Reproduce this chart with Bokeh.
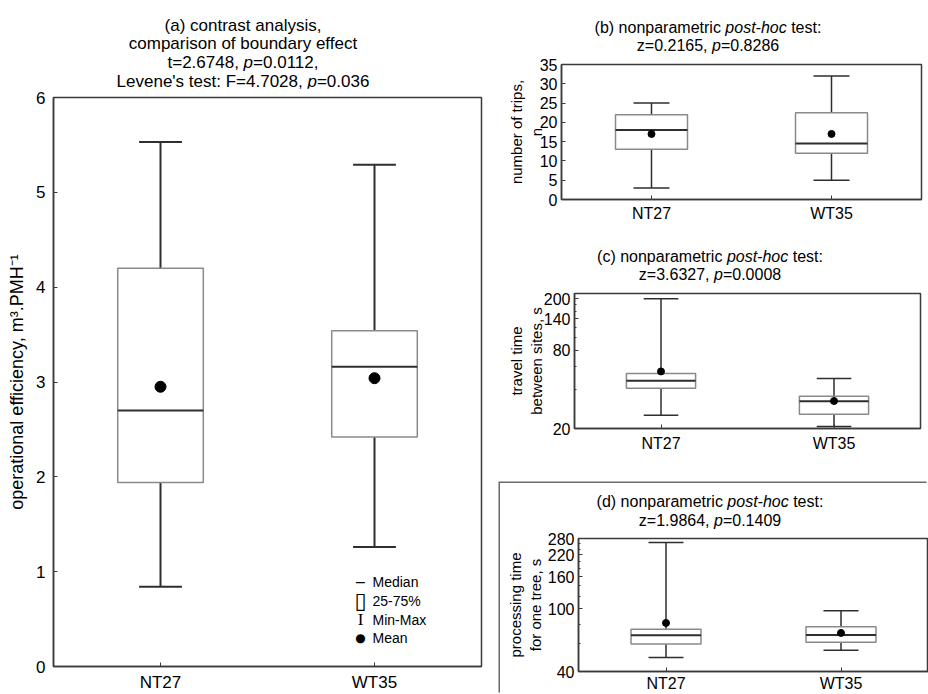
from bokeh.plotting import figure
from bokeh.models import (ColumnDataSource, Range1d, FixedTicker, Label, Div,
                          PrintfTickFormatter)
from bokeh.layouts import row, column
from bokeh.transform import dodge
from bokeh.embed import file_html
from bokeh.resources import INLINE

# ---------------- data ----------------
groups = ["NT27", "WT35"]

# (a) operational efficiency, m3.PMH-1
a_min = [0.84, 1.26]
a_q1 = [1.94, 2.42]
a_med = [2.70, 3.16]
a_q3 = [4.20, 3.54]
a_max = [5.53, 5.29]
a_mean = [2.95, 3.04]

# (b) number of trips
b_min = [3, 5]
b_q1 = [13, 12]
b_med = [18, 14.5]
b_q3 = [22, 22.5]
b_max = [25, 32]
b_mean = [17, 17]

# (c) travel time between sites, s
c_min = [25.3, 20.7]
c_q1 = [40.8, 25.8]
c_med = [46.7, 32.4]
c_q3 = [53.2, 35.4]
c_max = [200, 48.7]
c_mean = [55.1, 32.6]

# (d) processing time for one tree, s
d_min = [49.1, 54.6]
d_q1 = [59.9, 61.4]
d_med = [68.0, 68.3]
d_q3 = [74.2, 77.1]
d_max = [264, 97.4]
d_mean = [81.4, 70.3]

a_ticks = [0, 1, 2, 3, 4, 5, 6]
b_ticks = [0, 5, 10, 15, 20, 25, 30, 35]
c_ticks = [20, 80, 140, 200]
c_minor = [40, 60, 100, 120, 160, 180, 220]
d_ticks = [40, 100, 160, 220, 280]
d_minor = [60, 80, 120, 140, 180, 200, 240, 260]

title_a = ["(a) contrast analysis,",
           "comparison of boundary effect",
           "t=2.6748, <i>p</i>=0.0112,",
           "Levene's test: F=4.7028, <i>p</i>=0.036"]
title_b = ["(b) nonparametric <i>post-hoc</i> test:", "z=0.2165, <i>p</i>=0.8286"]
title_c = ["(c) nonparametric <i>post-hoc</i> test:", "z=3.6327, <i>p</i>=0.0008"]
title_d = ["(d) nonparametric <i>post-hoc</i> test:", "z=1.9864, <i>p</i>=0.1409"]
legend_items = [("\u2013", "Median"), ("\u25af", "25-75%"), ("I", "Min-Max"), ("\u25cf", "Mean")]

FONT = "Liberation Sans"
FRAME = "#3a3a3a"
BOXC = "#8a8a8a"
WHC = "#2e2e2e"


def title_div(lines, width, height, size, lh, pad):
    html = ("<div style=\"margin:0;padding:%spx 0 0 0;width:%dpx;display:block;"
            "font-family:'Liberation Sans',Arial,sans-serif;"
            "font-size:%dpx;line-height:%spx;text-align:center;color:#000;white-space:nowrap;\">%s</div>"
            % (pad, width, size, lh, "<br>".join(lines)))
    return Div(text=html, width=width, height=height, margin=0)


def make_fig(w, h, yr, ylog, mbl, mbr, mbt, mbb):
    p = figure(width=w, height=h, x_range=groups, y_range=yr,
               y_axis_type="log" if ylog else "linear",
               output_backend="svg", toolbar_location=None,
               min_border_left=mbl, min_border_right=mbr,
               min_border_top=mbt, min_border_bottom=mbb,
               frame_align=False,
               background_fill_color="white", border_fill_color="white",
               outline_line_color=FRAME, outline_line_width=1.5)
    p.xgrid.visible = False
    p.ygrid.visible = False
    for ax in p.axis:
        ax.axis_line_color = FRAME
        ax.axis_line_width = 1.5
        ax.major_tick_in = 4
        ax.major_tick_out = 0
        ax.minor_tick_in = 2
        ax.minor_tick_out = 0
        ax.major_tick_line_color = FRAME
        ax.minor_tick_line_color = FRAME
        ax.major_label_text_font = FONT
        ax.major_label_text_color = "black"
        ax.axis_label_text_font = FONT
        ax.axis_label_text_font_style = "normal"
        ax.axis_label_text_color = "black"
    return p


def add_boxes(p, mins, q1, med, q3, maxs, means, wh_lw, dot):
    src = ColumnDataSource(dict(g=groups, lo=mins, q1=q1, med=med, q3=q3, hi=maxs, mean=means))
    left_c = dodge("g", -0.1, range=p.x_range)
    right_c = dodge("g", 0.1, range=p.x_range)
    p.segment(x0="g", y0="q3", x1="g", y1="hi", source=src, line_color=WHC, line_width=wh_lw)
    p.segment(x0="g", y0="lo", x1="g", y1="q1", source=src, line_color=WHC, line_width=wh_lw)
    p.segment(x0=left_c, y0="hi", x1=right_c, y1="hi", source=src, line_color=WHC, line_width=wh_lw)
    p.segment(x0=left_c, y0="lo", x1=right_c, y1="lo", source=src, line_color=WHC, line_width=wh_lw)
    p.vbar(x="g", width=0.4, bottom="q1", top="q3", source=src,
           fill_color="white", line_color=BOXC, line_width=1.5)
    p.segment(x0=dodge("g", -0.2, range=p.x_range), y0="med",
              x1=dodge("g", 0.2, range=p.x_range), y1="med",
              source=src, line_color=WHC, line_width=2)
    p.scatter(x="g", y="mean", size=dot, source=src, fill_color="black", line_color="black")


# ---------------- (a) ----------------
div_a = title_div(title_a, 486, 88, 17, 18.8, 16.5)
pa = make_fig(500, 606, Range1d(0, 6), False, 53, 19, 9, 26)
pa.yaxis.ticker = FixedTicker(ticks=a_ticks, minor_ticks=[])
pa.yaxis.axis_label = "operational efficiency, m\u00b3.PMH\u207b\u00b9"
pa.yaxis.axis_label_text_font_size = "18px"
pa.yaxis.major_label_text_font_size = "17px"
pa.yaxis.major_label_standoff = 8
pa.yaxis.axis_label_standoff = 6
pa.xaxis.major_label_text_font_size = "17px"
pa.xaxis.major_label_standoff = 6
add_boxes(pa, a_min, a_q1, a_med, a_q3, a_max, a_mean, 2, 11)
sym_fonts = [FONT, "DejaVu Sans", "Liberation Serif", "DejaVu Sans"]
sym_sizes = ["16px", "22px", "17px", "12px"]
for (sym, txt), yy, sf, ss in zip(legend_items, [493, 512, 531, 549], sym_fonts, sym_sizes):
    pa.add_layout(Label(x=360, y=yy, x_units="canvas", y_units="canvas", text=sym,
                        text_font=sf, text_font_size=ss, text_color="black",
                        text_align="center", text_baseline="middle"))
    pa.add_layout(Label(x=372, y=yy, x_units="canvas", y_units="canvas", text=txt,
                        text_font=FONT, text_font_size="14px", text_color="black",
                        text_align="left", text_baseline="middle"))


def style_right(p, label, std):
    p.yaxis.axis_label = label
    p.yaxis.axis_label_text_font_size = "15px"
    p.yaxis.axis_label_text_line_height = 1.15
    p.yaxis.major_label_text_font_size = "16px"
    p.yaxis.major_label_standoff = 4
    p.yaxis.axis_label_standoff = std
    p.xaxis.major_label_text_font_size = "16px"


# ---------------- (b) ----------------
div_b = title_div(title_b, 416, 54, 16, 18, 19)
pb = make_fig(428, 178, Range1d(0, 35), False, 61, 7, 10, 33)
pb.yaxis.ticker = FixedTicker(ticks=b_ticks, minor_ticks=[])
style_right(pb, "number of trips,\nn", -8)
pb.xaxis.major_label_standoff = 5
add_boxes(pb, b_min, b_q1, b_med, b_q3, b_max, b_mean, 1.5, 7)

# ---------------- (c) ----------------
div_c = title_div(title_c, 420, 52, 16, 18, 16)
pc = make_fig(428, 199, Range1d(20, 220), True, 74, 8, 9, 55)
pc.yaxis.ticker = FixedTicker(ticks=c_ticks, minor_ticks=c_minor)
pc.yaxis.formatter = PrintfTickFormatter(format="%d")
style_right(pc, "travel time\nbetween sites, s", -4)
pc.xaxis.major_label_standoff = 6
add_boxes(pc, c_min, c_q1, c_med, c_q3, c_max, c_mean, 1.5, 7)

# ---------------- (d) ----------------
div_d = title_div(title_d, 420, 48, 16, 19, 9)
pd_ = make_fig(428, 163, Range1d(40, 280), True, 78, 0, 7, 23)
pd_.yaxis.ticker = FixedTicker(ticks=d_ticks, minor_ticks=d_minor)
pd_.yaxis.formatter = PrintfTickFormatter(format="%d")
style_right(pd_, "processing time\nfor one tree, s", 1)
pd_.xaxis.major_label_standoff = 3
add_boxes(pd_, d_min, d_q1, d_med, d_q3, d_max, d_mean, 1.5, 7)
box_d = column(div_d, pd_, styles={"box-shadow": "-1.5px -1.5px 0 0 #6a6a6a"})

layout = row(column(div_a, pa), column(div_b, pb, div_c, pc, box_d))

with open("out.html", "w") as f:
    f.write(file_html(layout, INLINE))
